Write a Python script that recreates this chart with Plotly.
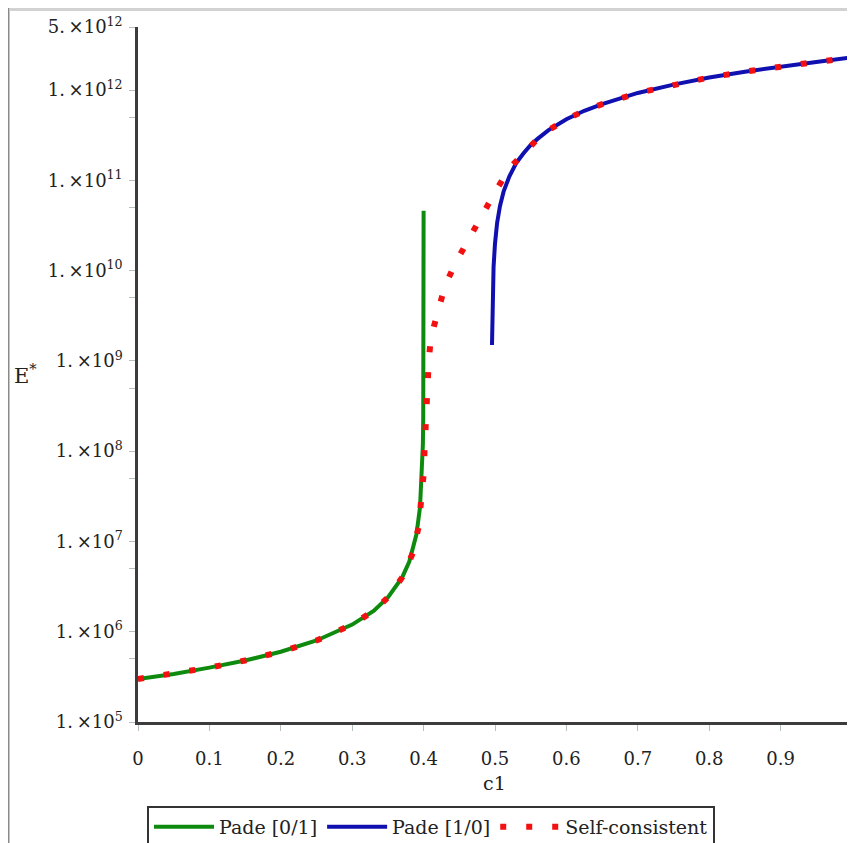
import plotly.graph_objects as go

# Pade [0/1]
pade01_c = [0, 0.05, 0.1, 0.15, 0.2, 0.25, 0.3, 0.33, 0.35, 0.37, 0.38, 0.39,
            0.395, 0.398, 0.399, 0.3995, 0.3999, 0.39995, 0.39999, 0.399997]
pade01_e = [3.0e5, 3.4e5, 4.0e5, 4.8e5, 6.0e5, 8.0e5, 1.2e6, 1.7e6, 2.4e6, 4.0e6,
            6.0e6, 1.2e7, 2.4e7, 6.0e7, 1.2e8, 2.4e8, 1.2e9, 2.4e9, 1.2e10, 4.6e10]

# Pade [1/0]
pade10_c = [0.4958, 0.4962, 0.497, 0.498, 0.5, 0.503, 0.507, 0.512, 0.52, 0.53,
            0.54, 0.55, 0.56, 0.575, 0.6, 0.625, 0.65, 0.7, 0.75, 0.8, 0.85, 0.9, 0.95, 1.0]
pade10_e = [1.5e9, 3.2e9, 6.8e9, 1.1e10, 2.0e10, 3.4e10, 5.2e10, 7.5e10, 1.1e11, 1.57e11,
            2.0e11, 2.47e11, 2.9e11, 3.6e11, 4.75e11, 5.9e11, 7.0e11, 9.3e11, 1.15e12,
            1.38e12, 1.6e12, 1.83e12, 2.05e12, 2.3e12]

# self-consistent solution
sc_c = [0, 0.05, 0.1, 0.15, 0.2, 0.25, 0.3, 0.33, 0.35, 0.37, 0.385, 0.393, 0.397,
        0.4, 0.4015, 0.403, 0.405, 0.407, 0.41, 0.42, 0.43, 0.445, 0.463, 0.482,
        0.5, 0.52, 0.545, 0.56, 0.575, 0.6, 0.625, 0.65, 0.7, 0.75, 0.8, 0.85, 0.9,
        0.95, 1.0]
sc_e = [3.0e5, 3.4e5, 4.0e5, 4.8e5, 6.0e5, 8.0e5, 1.2e6, 1.7e6, 2.4e6, 4.0e6, 7.5e6,
        1.45e7, 2.9e7, 5.5e7, 1.1e8, 2.2e8, 4.6e8, 9.3e8, 1.8e9, 3.4e9, 6.8e9, 1.23e10,
        2.27e10, 4.2e10, 7.4e10, 1.36e11, 2.2e11, 2.9e11, 3.6e11, 4.75e11, 5.9e11,
        7.0e11, 9.3e11, 1.15e12, 1.38e12, 1.6e12, 1.83e12, 2.05e12, 2.3e12]

x_ticks = [0, 0.1, 0.2, 0.3, 0.4, 0.5, 0.6, 0.7, 0.8, 0.9, 1]
x_labels = ["0", "0.1", "0.2", "0.3", "0.4", "0.5", "0.6", "0.7", "0.8", "0.9", "1"]
y_ticks = [1e5, 1e6, 1e7, 1e8, 1e9, 1e10, 1e11, 1e12, 5e12]
y_labels = ["1.\u2009\u00d710<sup>%d</sup>" % p for p in range(5, 13)] + \
           ["5.\u2009\u00d710<sup>12</sup>"]
y_minor = [5e5, 5e6, 5e7, 5e8, 5e9, 5e10, 5e11]

# page body has an 8px margin, so the figure is drawn 8px right/down
OFF = 8
W, H = 855 - OFF, 843 - OFF
L, R, T, B = 130, 0, 19, 121
pw, ph = W - L - R, H - T - B


def px_x(p):
    # reference pixel -> paper coordinate
    return (p - OFF - L) / pw


def px_y(p):
    return (H - B - (p - OFF)) / ph


serif = "DejaVu Serif"

fig = go.Figure()
fig.add_trace(go.Scatter(x=pade01_c, y=pade01_e, mode="lines", name="Pade [0/1]",
                         line=dict(color="#0e8a0e", width=4)))
fig.add_trace(go.Scatter(x=pade10_c, y=pade10_e, mode="lines", name="Pade [1/0]",
                         line=dict(color="#1010b0", width=4)))
fig.add_trace(go.Scatter(x=sc_c, y=sc_e, mode="lines", name="Self-consistent",
                         line=dict(color="#f21010", width=6, dash="6px,20px")))

fig.update_layout(
    width=W, height=H,
    margin=dict(l=L, r=R, t=T, b=B, autoexpand=False),
    paper_bgcolor="white", plot_bgcolor="white",
    font=dict(family=serif, size=17, color="#222"),
    showlegend=True,
    legend=dict(orientation="h", x=px_x(147), y=px_y(806), xanchor="left", yanchor="top",
                bordercolor="#333", borderwidth=2, bgcolor="white",
                font=dict(family=serif, size=19, color="#222"),
                itemwidth=60, tracegroupgap=0),
)
fig.update_xaxes(range=[0, pw / 714], showgrid=False, zeroline=False, automargin=False,
                 showline=True, linecolor="#3c3c3c", linewidth=2.5,
                 tickmode="array", tickvals=x_ticks, ticktext=x_labels,
                 ticks="outside", ticklen=6, tickcolor="#b4c0c4", tickwidth=1,
                 ticklabelstandoff=13, ticklabeloverflow="allow",
                 tickfont=dict(family=serif, size=18, color="#222"))
fig.update_yaxes(type="log", range=[5, 12.69897], showgrid=False, zeroline=False,
                 automargin=False,
                 showline=True, linecolor="#3c3c3c", linewidth=2.5,
                 tickmode="array", tickvals=y_ticks, ticktext=y_labels,
                 ticks="outside", ticklen=6, tickcolor="#b4c0c4", tickwidth=1,
                 ticklabelstandoff=3,
                 tickfont=dict(family=serif, size=18, color="#222"),
                 minor=dict(tickvals=y_minor, ticks="outside", ticklen=6,
                            tickcolor="#b4c0c4", tickwidth=1))

fig.add_annotation(text="E<sup>*</sup>", xref="paper", yref="paper",
                   x=px_x(25), y=px_y(374), showarrow=False,
                   xanchor="center", yanchor="middle",
                   font=dict(family=serif, size=21, color="#222"))
fig.add_annotation(text="c1", xref="paper", yref="paper",
                   x=px_x(494), y=px_y(783), showarrow=False,
                   xanchor="center", yanchor="middle",
                   font=dict(family=serif, size=19, color="#222"))

# window frame around the picture
fig.add_shape(type="rect", xref="paper", yref="paper", layer="above",
              x0=px_x(OFF), x1=px_x(OFF + 1.5), y0=px_y(843), y1=px_y(OFF),
              fillcolor="#8a8a8a", line_width=0)
fig.add_shape(type="rect", xref="paper", yref="paper", layer="above",
              x0=px_x(OFF + 1.5), x1=px_x(855), y0=px_y(11), y1=px_y(OFF),
              fillcolor="#d2d2d2", line_width=0)

fig.write_html("out.html")
